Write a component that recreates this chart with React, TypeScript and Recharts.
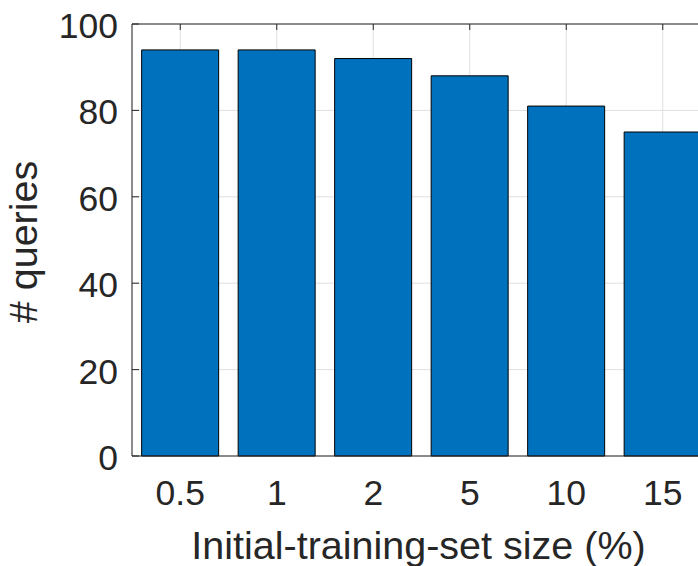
import React from 'react';
import { BarChart, Bar, XAxis, YAxis, CartesianGrid, ReferenceLine } from 'recharts';

const categories = ['0.5', '1', '2', '5', '10', '15'];
const queries = [94, 94, 92, 88, 81, 75];
const yTicks = [0, 20, 40, 60, 80, 100];
const xLabel = 'Initial-training-set size (%)';
const yLabel = '# queries';

const data = categories.map((c, i) => ({ name: c, value: queries[i] }));

const FONT = '"Liberation Sans", Arial, Helvetica, sans-serif';
const TXT = '#262626';
const AX = '#262626';

const PLOT_LEFT = 132;
const PLOT_TOP = 24;
const PLOT_BOTTOM = 456;
const TICK_FS = 35.5;
const LABEL_FS = 39.5;

const YTick = (props: any) => {
  const c = props.payload.coordinate;
  return (
    <g>
      <line x1={PLOT_LEFT} x2={PLOT_LEFT + 7} y1={c} y2={c} stroke={AX} strokeWidth={1} />
      <text x={118} y={c + 14} textAnchor="end" fontSize={TICK_FS} fontFamily={FONT} fill={TXT}>
        {props.payload.value}
      </text>
    </g>
  );
};

const XTick = (props: any) => {
  const c = props.payload.coordinate;
  return (
    <g>
      <line x1={c} x2={c} y1={PLOT_TOP} y2={PLOT_TOP + 6} stroke={AX} strokeWidth={1} />
      <text x={c} y={505} textAnchor="middle" fontSize={TICK_FS} fontFamily={FONT} fill={TXT}>
        {props.payload.value}
      </text>
    </g>
  );
};

export default function App() {
  return (
    <div style={{ position: 'fixed', left: 0, top: 0, width: 698, height: 566, overflow: 'hidden', background: '#fff' }}>
      <BarChart
        width={720}
        height={566}
        data={data}
        margin={{ top: PLOT_TOP, right: 9, bottom: 0, left: 0 }}
        barCategoryGap="10%"
      >
        <CartesianGrid stroke="#dfdfdf" strokeWidth={1} />
        <XAxis
          dataKey="name"
          height={566 - PLOT_BOTTOM}
          axisLine={{ stroke: AX, strokeWidth: 1 }}
          tickLine={false}
          tick={<XTick />}
          interval={0}
          label={{
            content: (p: any) => {
              const vb = p.viewBox;
              return (
                <text x={vb.x + vb.width / 2 - 3} y={559} textAnchor="middle" fontSize={LABEL_FS} fontFamily={FONT} fill={TXT}>
                  {xLabel}
                </text>
              );
            },
          }}
        />
        <YAxis
          width={PLOT_LEFT}
          domain={[0, 100]}
          ticks={yTicks}
          axisLine={{ stroke: AX, strokeWidth: 1 }}
          tickLine={false}
          tick={<YTick />}
          interval={0}
          label={{
            content: () => (
              <text
                x={37}
                y={(PLOT_TOP + PLOT_BOTTOM) / 2 + 2}
                transform={`rotate(-90, 37, ${(PLOT_TOP + PLOT_BOTTOM) / 2 + 2})`}
                textAnchor="middle"
                fontSize={LABEL_FS}
                fontFamily={FONT}
                fill={TXT}
              >
                {yLabel}
              </text>
            ),
          }}
        />
        <ReferenceLine y={100} stroke={AX} strokeWidth={1} />
        <Bar dataKey="value" fill="#0072BD" stroke="#000" strokeWidth={1} isAnimationActive={false} />
      </BarChart>
    </div>
  );
}
